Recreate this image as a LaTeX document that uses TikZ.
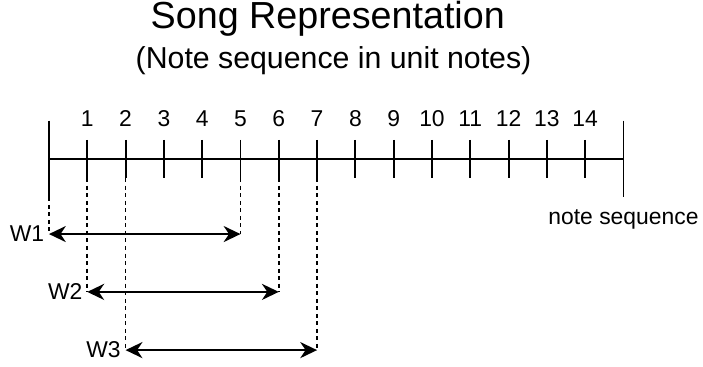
\documentclass[tikz,border=0pt]{standalone}
\usepackage{fontspec}
\setmainfont{Liberation Sans}
\usetikzlibrary{arrows.meta, positioning}

\begin{document}
\begin{tikzpicture}[
    axisline/.style={line width=1.4pt},
    guide/.style={line width=1.3pt, dash pattern=on 3pt off 2.6pt},
    window/.style={line width=1.4pt, {Stealth[length=4.4mm, width=4.2mm, inset=1.4mm]}-{Stealth[length=4.4mm, width=4.2mm, inset=1.4mm]}},
    numlabel/.style={font=\fontsize{17}{20}\selectfont, inner sep=0pt},
    winlabel/.style={font=\fontsize{17}{20}\selectfont, inner sep=0pt}
]
    \useasboundingbox (-1.279,-5.431) rectangle (17.076,4.151);

    % Title
    \node[font=\fontsize{28}{33}\selectfont, anchor=base] at (7.28,3.42) (title) {Song Representation};
    \node[font=\fontsize{22.5}{27}\selectfont, anchor=base] at (7.43,2.35) (subtitle) {(Note sequence in unit notes)};

    % Axis
    \coordinate (top0) at (0,1);
    \coordinate (bot0) at (0,-1);
    \coordinate (top15) at (15,1);
    \coordinate (bot15) at (15,-1);
    \coordinate (axisstart) at (0,0);
    \coordinate (axisend) at (15,0);
    \draw[axisline] (top0) -- (bot0);
    \draw[axisline] (top15) -- (bot15);
    \draw[axisline] (axisstart) -- (axisend);
    \node[winlabel, below=0.32cm of bot15] (seq) {note sequence};

    % Ticks
    \foreach \i in {1,...,14} {
        \coordinate (top\i) at (\i,0.5);
        \coordinate (bot\i) at (\i,-0.5);
        \draw[axisline] (top\i) -- (bot\i);
        \node[numlabel, above=0.34cm of top\i] (n\i) {\i};
    }

    % Windows
    \foreach \w/\a/\b/\y in {1/0/5/-1.96, 2/1/6/-3.47, 3/2/7/-4.99} {
        \coordinate (ws\w) at (\a,\y);
        \coordinate (we\w) at (\b,\y);
        \draw[guide] (bot\a) -- (ws\w);
        \draw[guide] (bot\b) -- (we\w);
        \draw[window] (ws\w) -- (we\w);
        \node[winlabel, left=0.12cm of ws\w] (w\w) {W\w};
    }
\end{tikzpicture}
\end{document}
